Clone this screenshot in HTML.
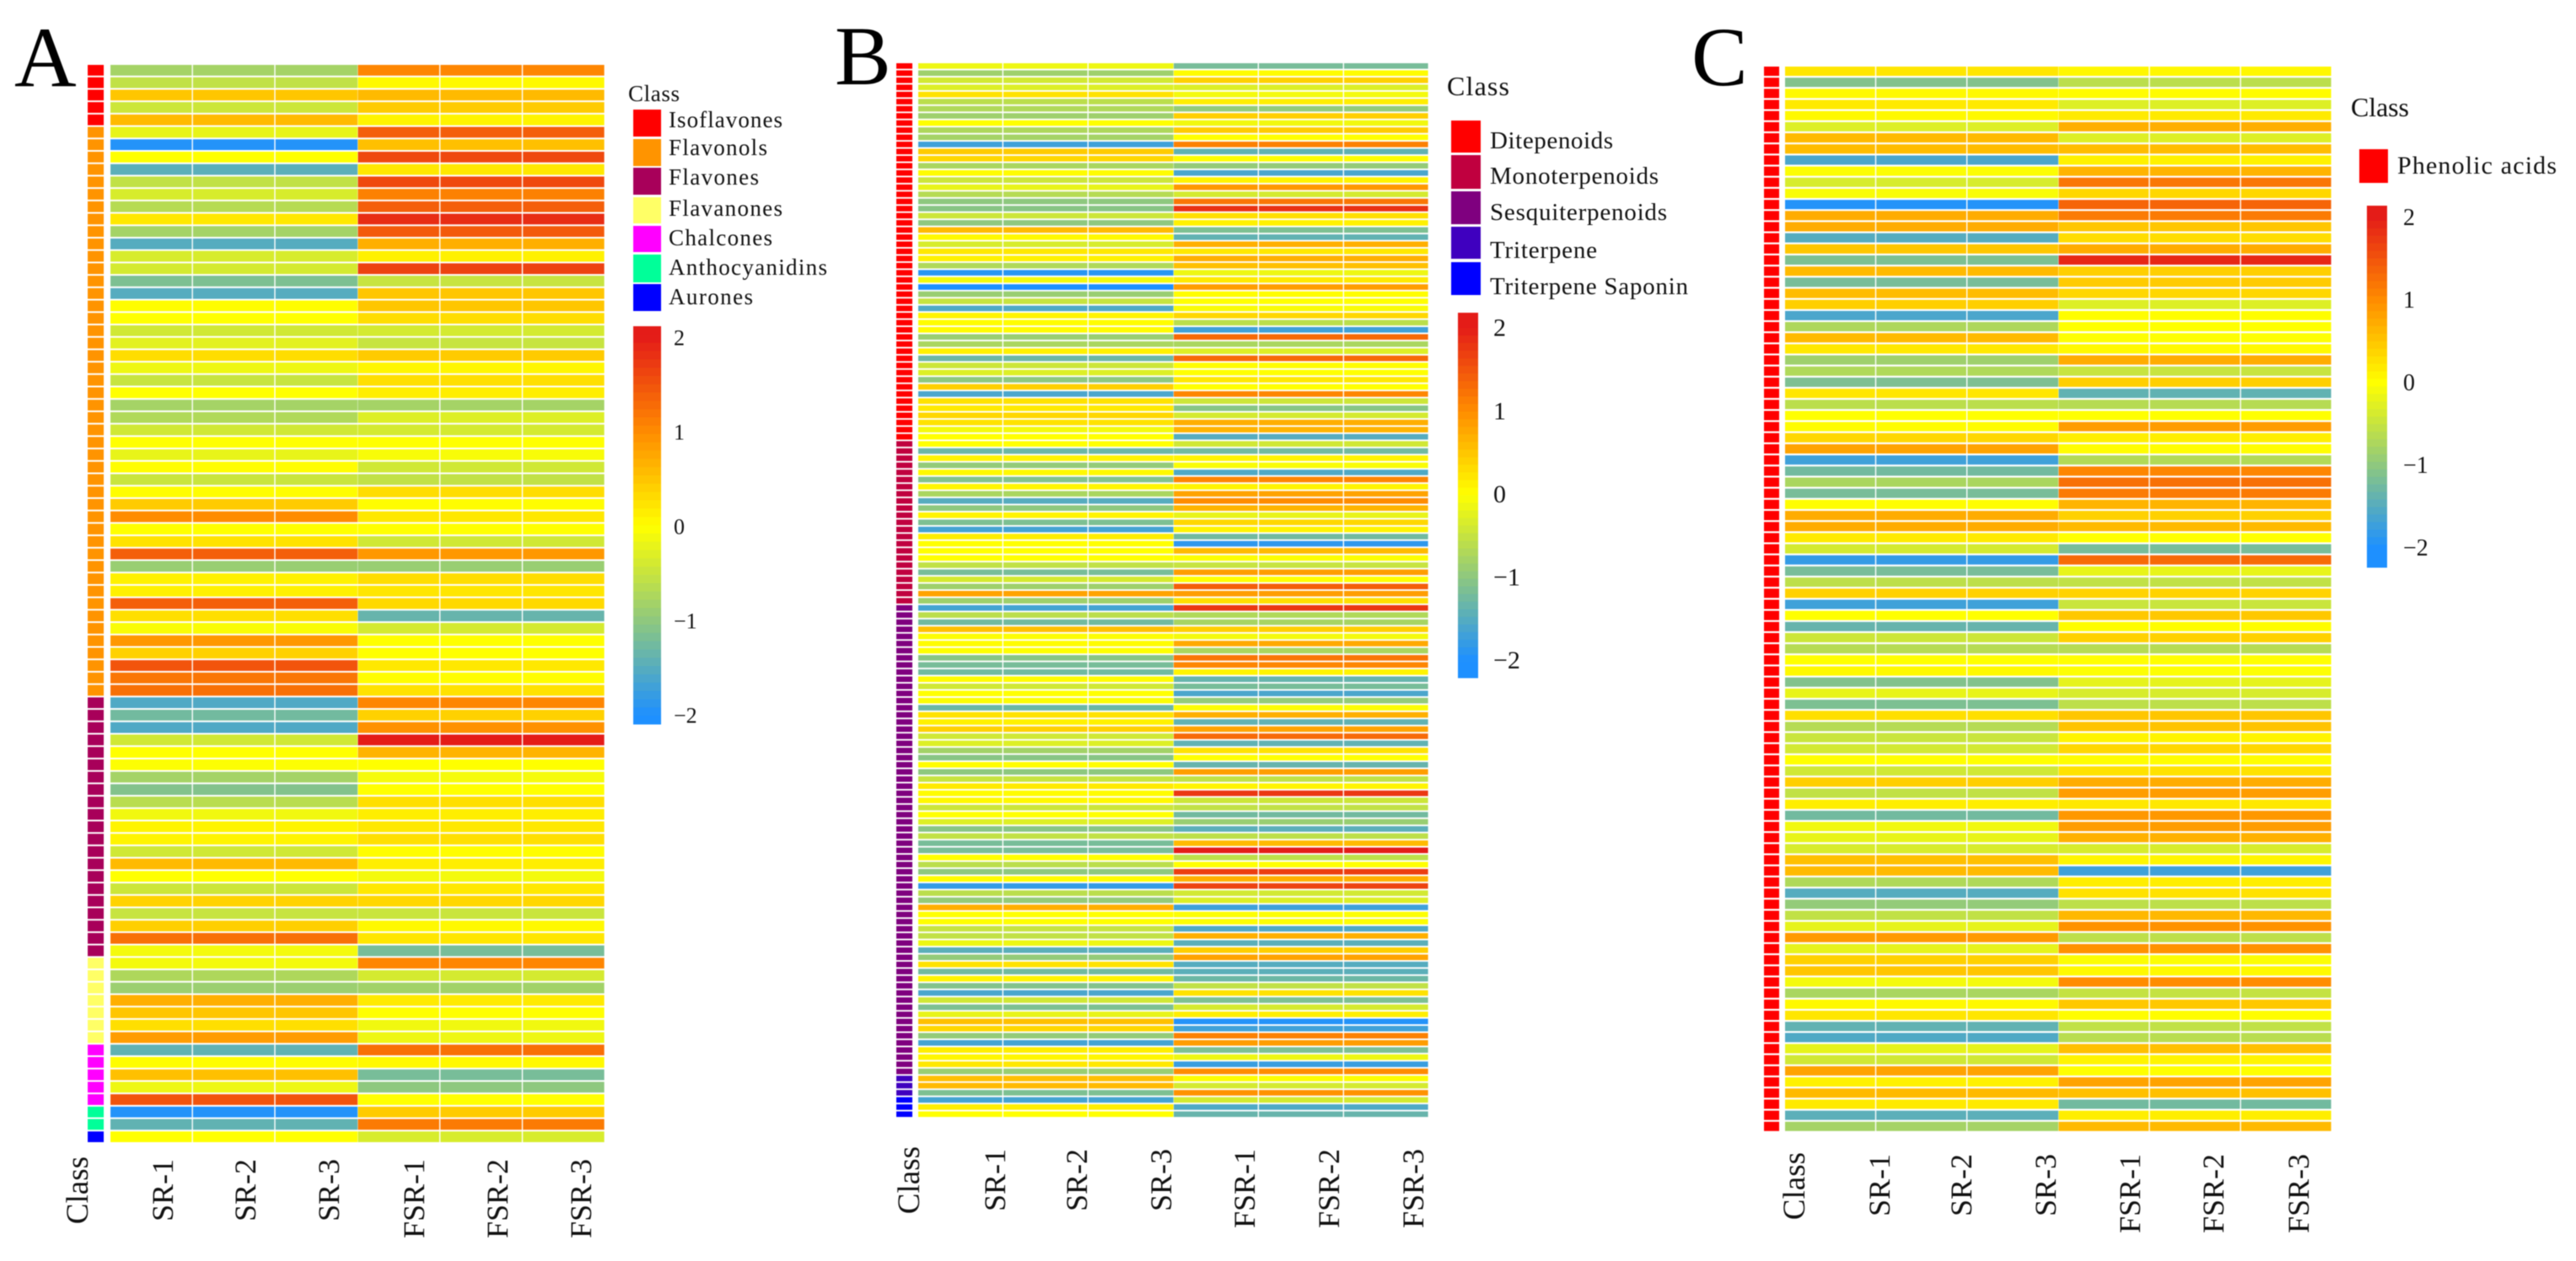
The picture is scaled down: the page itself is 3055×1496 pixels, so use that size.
<!DOCTYPE html>
<html lang="en">
<head>
<meta charset="utf-8">
<title>Metabolite heatmaps</title>
<style>
html,body{margin:0;padding:0;background:#fff;width:3055px;height:1496px;overflow:hidden}
svg{display:block;font-family:"Liberation Serif",serif;fill:#111}
#figure{filter:blur(0.55px)}
</style>
</head>
<body>
<svg id="figure" xmlns="http://www.w3.org/2000/svg" width="3055" height="1496" viewBox="0 0 3055 1496">
<rect x="0" y="0" width="3055" height="1496" fill="#fff"/>

<g id="panel-a">
<text x="17" y="102" font-size="102" fill="#000">A</text>
<g id="a-heat"></g>
<g font-size="36">
<text transform="translate(104,1372) rotate(-90)" text-anchor="end" font-size="37">Class</text>
<text transform="translate(205,1375) rotate(-90)" text-anchor="end">SR-1</text>
<text transform="translate(303,1375) rotate(-90)" text-anchor="end">SR-2</text>
<text transform="translate(402,1375) rotate(-90)" text-anchor="end">SR-3</text>
<text transform="translate(503,1375) rotate(-90)" text-anchor="end">FSR-1</text>
<text transform="translate(602,1375) rotate(-90)" text-anchor="end">FSR-2</text>
<text transform="translate(701,1375) rotate(-90)" text-anchor="end">FSR-3</text>
</g>
<g font-size="27">
<text x="745" y="120" textLength="61">Class</text>
<rect x="751" y="130" width="33" height="32" fill="#ff0000"/>
<text x="793" y="151" textLength="135">Isoflavones</text>
<rect x="751" y="165" width="33" height="32" fill="#ff9400"/>
<text x="793" y="184" textLength="117">Flavonols</text>
<rect x="751" y="199" width="33" height="32" fill="#a8005a"/>
<text x="793" y="219" textLength="107">Flavones</text>
<rect x="751" y="234" width="33" height="31" fill="#ffff66"/>
<text x="793" y="256" textLength="135">Flavanones</text>
<rect x="751" y="268" width="33" height="31" fill="#ff00ff"/>
<text x="793" y="291" textLength="123">Chalcones</text>
<rect x="751" y="302" width="33" height="33" fill="#00ff99"/>
<text x="793" y="326" textLength="188">Anthocyanidins</text>
<rect x="751" y="337" width="33" height="32" fill="#0000ff"/>
<text x="793" y="361" textLength="100">Aurones</text>
</g>
<g id="a-colorbar"></g>
</g>

<g id="panel-b">
<text x="990" y="100" font-size="100" fill="#000">B</text>
<g id="b-heat"></g>
<g font-size="36">
<text transform="translate(1090,1360) rotate(-90)" text-anchor="end" font-size="37">Class</text>
<text transform="translate(1192,1363) rotate(-90)" text-anchor="end">SR-1</text>
<text transform="translate(1289,1363) rotate(-90)" text-anchor="end">SR-2</text>
<text transform="translate(1389,1363) rotate(-90)" text-anchor="end">SR-3</text>
<text transform="translate(1488,1363) rotate(-90)" text-anchor="end">FSR-1</text>
<text transform="translate(1588,1363) rotate(-90)" text-anchor="end">FSR-2</text>
<text transform="translate(1688,1363) rotate(-90)" text-anchor="end">FSR-3</text>
</g>
<g font-size="29">
<text x="1716" y="113" font-size="32" textLength="74">Class</text>
<rect x="1721" y="143" width="35" height="38" fill="#ff0000"/>
<text x="1767" y="176" textLength="146">Ditepenoids</text>
<rect x="1721" y="184" width="35" height="40" fill="#c0003f"/>
<text x="1767" y="218" textLength="200">Monoterpenoids</text>
<rect x="1721" y="227" width="35" height="39" fill="#7f007f"/>
<text x="1767" y="261" textLength="210">Sesquiterpenoids</text>
<rect x="1721" y="269" width="35" height="38" fill="#3f00bf"/>
<text x="1767" y="306" textLength="127">Triterpene</text>
<rect x="1721" y="311" width="35" height="39" fill="#0000ff"/>
<text x="1767" y="349" textLength="235">Triterpene Saponin</text>
</g>
<g id="b-colorbar"></g>
</g>

<g id="panel-c">
<text x="2006" y="101" font-size="100" fill="#000">C</text>
<g id="c-heat"></g>
<g font-size="36">
<text transform="translate(2140,1367) rotate(-90)" text-anchor="end" font-size="37">Class</text>
<text transform="translate(2241,1369) rotate(-90)" text-anchor="end">SR-1</text>
<text transform="translate(2338,1369) rotate(-90)" text-anchor="end">SR-2</text>
<text transform="translate(2438,1369) rotate(-90)" text-anchor="end">SR-3</text>
<text transform="translate(2538,1369) rotate(-90)" text-anchor="end">FSR-1</text>
<text transform="translate(2637,1369) rotate(-90)" text-anchor="end">FSR-2</text>
<text transform="translate(2738,1369) rotate(-90)" text-anchor="end">FSR-3</text>
</g>
<g>
<text x="2788" y="138" font-size="32" textLength="69">Class</text>
<rect x="2798" y="177" width="34" height="40" fill="#ff0000"/>
<text x="2843" y="206" font-size="30" textLength="189">Phenolic acids</text>
</g>
<g id="c-colorbar"></g>
</g>
</svg>

<script>
// Scale tick labels shared by all colour bars
const tickValues = [2, 1, 0, -1, -2];
const tickLabels = ['2', '1', '0', '\u22121', '\u22122'];

// Panel A: z-scores per row, SR group and FSR group
const aSR = [
-0.8,-0.55,0.5,-0.45,0.6,-0.2,-1.95,0,-1.45,-0.55,
-0.35,-0.65,0.2,-0.8,-1.5,-0.35,-0.38,-1.15,-1.5,0.02,
0,-0.42,-0.25,0.3,-0.15,-0.5,0,-0.8,-0.7,-0.42,
0,-0.2,0.02,-0.48,0.02,0.45,1,0,0.25,1.4,
-0.9,0.12,0.12,1.4,0.28,-0.05,0.9,0.4,1.5,1.2,
1.25,-1.55,-1.25,-1.55,-0.42,0,-0.02,-0.8,-1.1,-0.62,
-0.12,0.1,0.1,-0.42,0.6,0,-0.45,0.38,-0.5,0.42,
1.25,-0.1,-0.1,-0.72,-0.88,0.7,0.5,0.28,0.85,-1.4,
0.02,0.55,-0.15,1.5,-1.95,-1.4,0];
const aFSR = [
1.05,0.05,0.6,0.45,0.1,1.4,0.55,1.6,0.2,1.6,
1.1,1.4,1.85,1.45,0.7,0.12,1.65,-0.5,0.5,0.5,
0.3,-0.38,-0.5,0.45,0.08,0.28,0.15,-0.8,-0.3,-0.38,
0,-0.06,-0.42,-0.55,0.3,0.02,0.2,0,-0.42,0.9,
-0.9,0.3,0.22,0.33,-1.35,-0.38,0,0,0.2,0.02,
0.25,1.05,0.4,0.95,2,0.65,0,-0.08,0,0.28,
0.15,0.2,0.28,0.02,0.15,-0.1,0.2,0.35,-0.48,0.05,
0.22,-1.2,1.05,-0.38,-0.82,0.18,0,-0.12,-0.15,1.25,
0.05,-1.2,-1,0,0.45,1.15,-0.35];
const aClassCounts = [5, 46, 21, 7, 5, 2, 1];
const aClassColors = ['#ff0000', '#ff9400', '#a8005a', '#ffff66', '#ff00ff', '#00ff99', '#0000ff'];

// Panel B
const bSR = [
-0.15,-0.85,-0.4,-0.3,0.25,-0.6,-0.7,-0.85,0,-0.72,
-0.8,-1.7,0.45,0.35,-0.75,0.03,-0.45,-0.2,-0.65,-1,
-1.05,-0.45,-1,0.6,0.05,-0.35,0.2,0.12,-0.7,-1.9,
-0.1,-2,-0.9,-0.5,-1.55,0.1,0.02,0.03,-0.9,-0.75,
0.12,-1.3,-0.45,-0.3,-1,0.42,-1.6,0.25,0.18,0.35,
0.25,-0.1,0,0,-1.3,0.1,-0.95,0.05,-1.1,0.08,
-0.75,-1.5,-1,0.1,-1.15,-1.65,0.15,0,0,0,
-0.55,-1.2,-0.38,-0.85,0.8,-0.85,-1.65,-0.6,-1.25,0.55,
-0.03,0.03,0,-1.05,-1.2,-1.25,0.03,-0.42,0,-0.03,
-1.3,0.25,0.12,0.4,-0.42,-0.3,-0.82,-1.05,0.02,-1,
-0.5,0.18,0.03,0.05,-0.45,0,-0.3,-1.05,-0.55,-1.2,
-1.2,0,-0.6,-1,0.02,-1.8,-0.6,-0.95,0.7,0,
0,-0.5,-0.55,-0.15,-1.45,-0.95,0.25,-1.25,0.1,-1.1,
-1.6,-0.42,-1.15,-0.2,0.55,0.35,-0.95,-1.65,0.15,0.08,
0.2,-0.9,0.55,0.6,-1.15,-1.65,0.15,0];
const bFSR = [
-1.2,0.03,0.4,-0.3,-0.1,0.15,-0.95,0.42,-0.12,0.45,
0,1.1,-1.4,0.02,-0.95,-1.6,0.1,0.9,-0.38,1.2,
1.8,0.28,0.12,-1.15,-1.4,0.7,0.2,0.7,0.55,-0.15,
0.18,0.85,0.02,0,-0.05,0.35,-0.6,-1.7,1.3,-0.75,
-0.3,1.3,0.02,0,0.2,0,1.05,-0.45,-1.05,-0.38,
0.7,0.65,-1.5,-0.42,-1.25,0.1,-0.05,-1.55,1.05,0.1,
0.8,1,0.65,-0.2,0.35,0.1,-1.25,-1.85,0.6,-0.02,
-0.5,0.85,0,1.4,0.85,0.28,1.75,-0.7,-0.78,0.42,
-0.1,0.75,-0.75,1.2,1.05,0.1,-1.35,-1.2,-1.6,-0.95,
-0.03,0.7,-1.4,0.8,1.3,-1.4,0.25,0,-1.35,0.85,
-0.55,0.1,1.75,-0.45,-0.55,-1.25,-0.9,-1.45,-0.58,0.6,
2,-0.58,0,1.7,0.7,1.65,-0.4,-0.3,-1.7,-0.02,
-0.02,-1.55,0.7,-1.45,0.42,0.8,-1.5,-1.45,-1.3,-0.55,
0.25,-1.15,-0.38,0.15,-1.95,-1.7,1.1,0.85,-1.15,-0.15,
-1.75,1,-0.02,-0.38,0.95,-0.38,-1.55,-1.35];
const bClassCounts = [53, 23, 66, 3, 3];
const bClassColors = ['#ff0000', '#c0003f', '#7f007f', '#3f00bf', '#0000ff'];

// Panel C
const cSR = [
0.22,-1.1,0.05,0.18,0.05,-0.3,0.6,0.58,-1.6,-0.03,
-0.35,-0.05,-1.95,0.72,0.72,-1.5,0.5,-1.15,0.6,-1.2,
0.58,0.42,-1.6,-0.72,0.6,0.2,-0.85,-0.7,-1.15,0.22,
-0.6,0,0.03,0.35,0.8,-1.7,-1.25,-0.75,-1.2,0.02,
0.72,0.72,0.18,-0.38,-1.8,-1.2,-0.58,0.4,-1.7,0,
-1.35,-0.45,-0.65,0,0.05,-1.1,-0.2,-1.15,0.28,-0.65,
-0.48,-0.4,0,-0.42,0.42,-0.55,0.15,-1.25,-0.12,-0.2,
-0.35,0.55,0.6,-0.7,-1.5,-0.95,-0.55,-0.22,0.88,-0.22,
0.4,0.5,-0.1,-0.75,0.05,0.22,-1.4,-1.55,-0.22,-0.42,
0.8,0.12,0.6,0.18,-1.45,-0.8];
const cFSR = [
0.07,-0.6,0.03,-0.3,0.18,0.7,-0.3,0.58,0.12,0.65,
1.2,0.35,1.35,1.15,0.5,0.3,0.72,1.9,0.42,0.45,
0.35,-0.3,0.02,0,-0.02,0.05,0.72,-0.5,0.42,-1.4,
-0.65,0,0.85,0.15,0.02,-0.68,1.05,1.25,1.15,0.65,
0.4,0.6,0,-1.2,1.3,-0.2,-0.55,0.38,-0.48,0.48,
0.02,0.4,-0.65,0.01,-0.02,-0.22,-0.35,-0.58,0.5,0.52,
0.1,0.35,0.02,0.25,0.72,0.85,0.2,0.9,0.85,0.68,
-0.35,0.08,-1.7,0.15,0.25,-0.58,0.62,0.95,-0.58,0.95,
-0.03,0.05,1,-0.52,0.48,0.02,-0.55,-0.62,0.55,0.1,
0,0.8,0.55,-1.25,0.15,0.6];
const cClassCounts = [96];
const cClassColors = ['#ff0000'];

// Colour scale: value anchors and colours
const scaleValues = [-2, -1, 0, 1, 2];
const scaleColors = [[30,144,255], [142,200,127], [255,255,0], [255,140,0], [228,28,24]];

const SVG_NS = 'http://www.w3.org/2000/svg';

function colorFor(v) {
  const c = Math.max(scaleValues[0], Math.min(scaleValues[scaleValues.length - 1], v));
  let i = 0;
  while (i < scaleValues.length - 2 && c > scaleValues[i + 1]) i++;
  const t = (c - scaleValues[i]) / (scaleValues[i + 1] - scaleValues[i]);
  const a = scaleColors[i];
  const b = scaleColors[i + 1];
  return 'rgb(' + [0, 1, 2].map(function (k) { return Math.round(a[k] + (b[k] - a[k]) * t); }).join(',') + ')';
}

function makeRect(x, y, w, h, fill) {
  const r = document.createElementNS(SVG_NS, 'rect');
  r.setAttribute('x', x.toFixed(2));
  r.setAttribute('y', y.toFixed(2));
  r.setAttribute('width', w.toFixed(2));
  r.setAttribute('height', h.toFixed(2));
  r.setAttribute('fill', fill);
  return r;
}

function drawHeatmap(groupId, sr, fsr, counts, colors, frame) {
  const group = document.getElementById(groupId);
  const rows = sr.length;
  const rowH = (frame.bottom - frame.top) / rows;
  const colW = (frame.right - frame.left) / 6;
  const xScale = function (col) { return frame.left + col * colW; };
  const yScale = function (row) { return frame.top + row * rowH; };
  const cellH = rowH - frame.gap;

  let classIndex = 0;
  let used = 0;
  for (let row = 0; row < rows; row++) {
    while (classIndex < counts.length - 1 && row >= used + counts[classIndex]) {
      used += counts[classIndex];
      classIndex++;
    }
    const tag = makeRect(frame.barLeft, yScale(row), frame.barWidth, cellH, colors[classIndex]);
    
    
    group.appendChild(tag);

    for (let col = 0; col < 6; col++) {
      const value = col < 3 ? sr[row] : fsr[row];
      const innerGap = col === 2 ? 0.4 : 1.4;
      const cell = makeRect(xScale(col), yScale(row), colW - innerGap, cellH, colorFor(value));
      
      
      group.appendChild(cell);
    }
  }
}

function drawColorbar(groupId, bar) {
  const group = document.getElementById(groupId);
  const yScale = function (v) { return bar.zeroY - v * bar.unit; };
  const topValue = (bar.zeroY - bar.top) / bar.unit;
  const bottomValue = (bar.zeroY - bar.bottom) / bar.unit;
  const steps = 48;
  for (let i = 0; i < steps; i++) {
    const v = topValue + (bottomValue - topValue) * (i + 0.5) / steps;
    const h = (bar.bottom - bar.top) / steps;
    const band = makeRect(bar.left, bar.top + i * h, bar.width, h + 0.5, colorFor(v));
    
    
    group.appendChild(band);
  }
  for (let i = 0; i < tickValues.length; i++) {
    const label = document.createElementNS(SVG_NS, 'text');
    label.setAttribute('x', bar.labelX);
    label.setAttribute('y', (yScale(tickValues[i]) + bar.fontSize * 0.33).toFixed(1));
    label.setAttribute('font-size', bar.fontSize);
    label.textContent = tickLabels[i];
    
    
    group.appendChild(label);
  }
}

drawHeatmap('a-heat', aSR, aFSR, aClassCounts, aClassColors,
  { left: 131, right: 718, top: 77, bottom: 1357, barLeft: 104, barWidth: 19, gap: 2 });
drawHeatmap('b-heat', bSR, bFSR, bClassCounts, bClassColors,
  { left: 1089, right: 1695, top: 75, bottom: 1327, barLeft: 1063, barWidth: 19, gap: 1.9 });
drawHeatmap('c-heat', cSR, cFSR, cClassCounts, cClassColors,
  { left: 2117, right: 2766, top: 79, bottom: 1344, barLeft: 2092, barWidth: 18, gap: 2.2 });

drawColorbar('a-colorbar', { left: 751, width: 33, top: 387, bottom: 859, zeroY: 625, unit: 112, labelX: 799, fontSize: 26 });
drawColorbar('b-colorbar', { left: 1729, width: 24, top: 371, bottom: 804, zeroY: 586, unit: 98.6, labelX: 1771, fontSize: 30 });
drawColorbar('c-colorbar', { left: 2807, width: 24, top: 244, bottom: 673, zeroY: 454, unit: 98, labelX: 2850, fontSize: 28 });
</script>
</body>
</html>
